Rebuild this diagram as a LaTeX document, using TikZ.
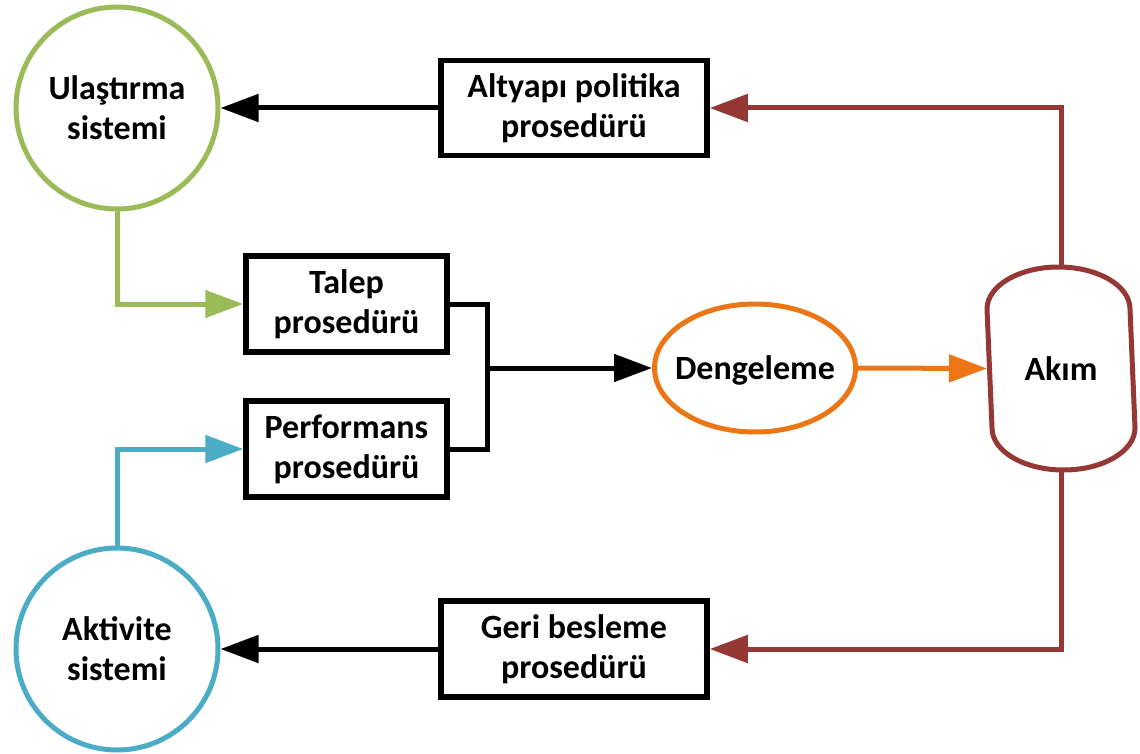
\documentclass[tikz,border=0pt]{standalone}
\usepackage{fontspec}
\setmainfont{Carlito}
\usetikzlibrary{arrows.meta,shapes.geometric}
\definecolor{cgreen}{RGB}{155,187,89}
\definecolor{cblue}{RGB}{75,172,198}
\definecolor{corange}{RGB}{236,118,22}
\definecolor{cbrown}{RGB}{149,55,53}
\tikzset{
  lbl/.style={font=\bfseries\fontsize{34}{40}\selectfont, align=center, text=black},
  procbox/.style={lbl, draw=black, line width=5.5pt, rectangle, inner sep=0pt, fill=white},
  syscircle/.style={lbl, circle, line width=5pt, inner sep=0pt, minimum size=202pt, fill=white},
  conn/.style={line width=5pt, -{Triangle[length=38pt,width=27pt]}},
  plain/.style={line width=5pt}
}
\begin{document}
\begin{tikzpicture}[x=1pt,y=1pt]
\path[use as bounding box] (0,0) rectangle (1140,-754);
% nodes
\node[syscircle, draw=cgreen] (ul) at (117,-108) {Ulaştırma\\sistemi};
\node[procbox, minimum width=266pt, minimum height=95pt] (alt) at (574,-108) {Altyapı politika\\prosedürü};
\node[procbox, minimum width=201pt, minimum height=96pt] (talep) at (346.5,-304) {Talep\\prosedürü};
\node[procbox, minimum width=201pt, minimum height=96pt] (perf) at (346.5,-449) {Performans\\prosedürü};
\node[lbl, ellipse, draw=corange, line width=5pt, inner sep=0pt, text depth=0pt, minimum width=201pt, minimum height=128pt] (deng) at (755,-368) {\makebox[0pt]{Dengeleme}};
\node[lbl, rectangle, inner sep=0pt, outer sep=2.5pt, minimum width=143pt, minimum height=198pt] (akim) at (1061,-368.5) {Akım};
\draw[cbrown, line width=5pt]
  ([yshift=-42pt]akim.north west) arc[start angle=180, end angle=0, x radius=71.5pt, y radius=42pt]
  -- ([yshift=42pt]akim.south east) arc[start angle=0, end angle=-180, x radius=71.5pt, y radius=42pt]
  -- cycle;
\node[procbox, minimum width=266pt, minimum height=96pt] (geri) at (574,-649) {Geri besleme\\prosedürü};
\node[syscircle, draw=cblue] (akt) at (117,-649) {Aktivite\\sistemi};
\coordinate (j) at (487,-368);
% connectors
\draw[conn, black] (alt.west) -- (ul.east);
\draw[conn, cbrown] (akim.north) |- (alt.east);
\draw[conn, cgreen] (ul.south) |- (talep.west);
\draw[conn, cblue] (akt.north) |- (perf.west);
\draw[plain, black, line join=miter] (talep.east) -| (j) |- (perf.east);
\draw[conn, black] (j) -- (deng.west);
\draw[conn, corange] (deng.east) -- (akim.west);
\draw[conn, cbrown] (akim.south) |- (geri.east);
\draw[conn, black] (geri.west) -- (akt.east);
\end{tikzpicture}
\end{document}
